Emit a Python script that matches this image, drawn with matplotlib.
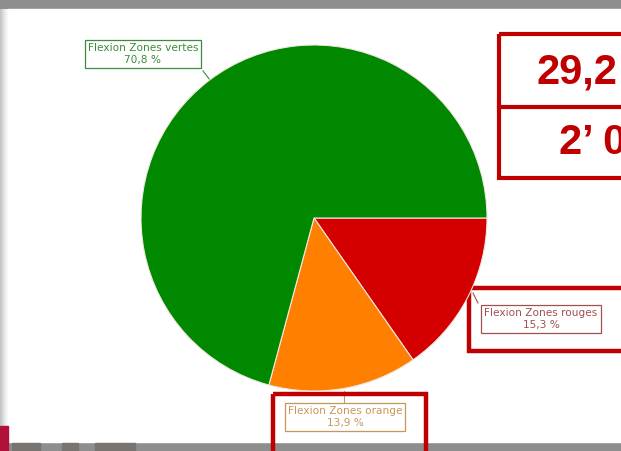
import numpy as np
import matplotlib
matplotlib.use("Agg")
import matplotlib.pyplot as plt
from matplotlib.patches import Rectangle

# share of each flexion zone (red, orange, green), clockwise from 3 o'clock
zones = ["Flexion Zones rouges", "Flexion Zones orange", "Flexion Zones vertes"]
shares = [15.3, 13.9, 70.8]
colors = ["#d40000", "#ff7f00", "#008800"]
text_colors = ["#a05050", "#c8965a", "#3c8c3c"]
headline = ["29,2", "2\u2019 0"]

W, H = 621, 451
fig = plt.figure(figsize=(W / 100, H / 100), dpi=100)

# page background in pixel coordinates
bg = fig.add_axes([0, 0, 1, 1])
bg.set_xlim(0, W)
bg.set_ylim(H, 0)
bg.axis("off")
bg.add_patch(Rectangle((0, 0), W, H, color="#8e8e8e", zorder=0))
grad = np.linspace(0, 1, 10)[None, :]
bg.imshow(grad, extent=(0, 9, 442, 9), cmap="Greys_r", vmin=-2, vmax=1.05,
          aspect="auto", zorder=1)
bg.add_patch(Rectangle((8, 9), W - 8, 433, color="white", zorder=1))
bg.add_patch(Rectangle((0, 426), 8, 25, color="#b0103a", zorder=2))
for x0, w in [(12, 28), (62, 16), (95, 40)]:
    bg.add_patch(Rectangle((x0, 443), w, 8, color="#7a7470", zorder=2))

# pie
cx, cy, r = 314, 218, 173
pax = fig.add_axes([(cx - r) / W, (H - cy - r) / H, 2 * r / W, 2 * r / H])
wedges, _ = pax.pie(shares, colors=colors, startangle=0, counterclock=False,
                    wedgeprops=dict(edgecolor="#f0e8e0", linewidth=0.8))
pax.set_xlim(-1, 1)
pax.set_ylim(-1, 1)
pax.set_aspect("equal")
pax.axis("off")

# callout boxes: (box centre x, y) and leader start in pixels
label_pos = [(541, 319), (345, 417), (143, 54)]
leaders = [((473, 293), (478, 303)), ((344, 391), (344, 402)), ((210, 80), (203, 71))]
for name, val, tc, (lx, ly), (p0, p1) in zip(zones, shares, text_colors, label_pos, leaders):
    txt = f"{name}\n{val:.1f} %".replace(".", ",")
    bg.text(lx, ly, txt, ha="center", va="center", fontsize=7.6, color=tc,
            family="DejaVu Sans", linespacing=1.15, zorder=5,
            bbox=dict(boxstyle="square,pad=0.3", fc="white", ec=tc, lw=0.9))
    bg.plot([p0[0], p1[0]], [p0[1], p1[1]], color=tc, lw=0.8, zorder=4)

# red highlight frames
red = "#c00000"
bg.add_patch(Rectangle((499, 34), 140, 144, fill=False, ec=red, lw=3, zorder=6))
bg.plot([499, W], [107, 107], color=red, lw=3, zorder=6)
bg.add_patch(Rectangle((469, 288), 170, 63, fill=False, ec=red, lw=3.2, zorder=6))
bg.add_patch(Rectangle((273, 394), 153, 80, fill=False, ec=red, lw=3.2, zorder=6))

bg.text(537, 73, headline[0], ha="left", va="center", fontsize=30, fontweight="bold",
        color=red, family="Liberation Sans", zorder=7)
bg.text(559, 143, headline[1], ha="left", va="center", fontsize=30, fontweight="bold",
        color=red, family="Liberation Sans", zorder=7)

fig.savefig("out.png", dpi=100)
